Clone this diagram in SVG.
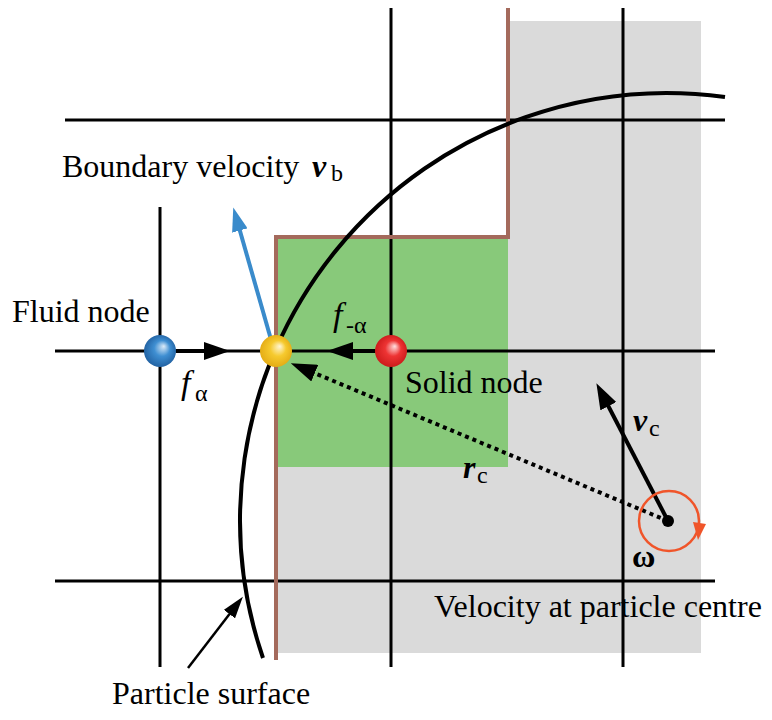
<svg xmlns="http://www.w3.org/2000/svg" width="772" height="720" viewBox="0 0 772 720">
<style>
.grid{stroke:#000;stroke-width:3;fill:none}
.lbl{font-family:"Liberation Serif","Times New Roman",serif;font-size:32px;fill:#000}
.sym{font-family:"Liberation Serif","Times New Roman",serif;font-size:34px;fill:#000;font-style:italic}
.bsym{font-family:"Liberation Serif","Times New Roman",serif;font-size:32px;fill:#000;font-style:italic;font-weight:bold}
.sub{font-family:"Liberation Serif","Times New Roman",serif;font-size:24px;fill:#000}
.arr{stroke:#000;stroke-width:4;fill:none}
</style>
<defs>
<marker id="ah" viewBox="0 0 26 18" refX="16" refY="9" markerWidth="26" markerHeight="18" markerUnits="userSpaceOnUse" orient="auto"><path d="M0,0 L26,9 L0,18 z" fill="#000"/></marker>
<marker id="ahs" viewBox="0 0 22 14" refX="14" refY="7" markerWidth="22" markerHeight="14" markerUnits="userSpaceOnUse" orient="auto"><path d="M0,0 L22,7 L0,14 z" fill="#000"/></marker>
<marker id="ahb" viewBox="0 0 24 16" refX="14" refY="8" markerWidth="24" markerHeight="16" markerUnits="userSpaceOnUse" orient="auto"><path d="M0,0 L24,8 L0,16 z" fill="#3A8BCB"/></marker>
<radialGradient id="gBlue" cx="0.5" cy="0.5" r="0.55" fx="0.62" fy="0.35"><stop offset="0" stop-color="#DCEBF8"/><stop offset="0.45" stop-color="#3F8FD2"/><stop offset="1" stop-color="#1E5C9C"/></radialGradient>
<radialGradient id="gYel" cx="0.5" cy="0.5" r="0.55" fx="0.62" fy="0.35"><stop offset="0" stop-color="#FFF6D6"/><stop offset="0.45" stop-color="#F6CA2E"/><stop offset="1" stop-color="#E2A812"/></radialGradient>
<radialGradient id="gRed" cx="0.5" cy="0.5" r="0.55" fx="0.62" fy="0.35"><stop offset="0" stop-color="#FFE0E0"/><stop offset="0.45" stop-color="#EE3434"/><stop offset="1" stop-color="#C81818"/></radialGradient>
</defs>

<g id="regions">
<rect x="508" y="21" width="193" height="632" fill="#DADADA"/>
<rect x="278" y="467" width="230" height="186" fill="#DADADA"/>
<rect x="278" y="238" width="230" height="229" fill="#88C97A"/>
</g>

<g id="grid">
<line class="grid" x1="160" y1="207" x2="160" y2="667"/>
<line class="grid" x1="391" y1="8" x2="391" y2="667"/>
<line class="grid" x1="623" y1="8" x2="623" y2="667"/>
<line class="grid" x1="65" y1="120" x2="725" y2="120"/>
<line class="grid" x1="55" y1="351" x2="715" y2="351"/>
<line class="grid" x1="55" y1="581" x2="715" y2="581"/>
</g>

<g id="boundary">
<path d="M276,660 L276,237 L508,237 L508,8" fill="none" stroke="#A46A5C" stroke-width="4"/>
</g>

<g id="particle-surface">
<path d="M263,658 A427,427 0 0 1 725,97" fill="none" stroke="#000" stroke-width="4"/>
</g>

<g id="connectors">
<line class="arr" x1="176" y1="351" x2="220" y2="351" marker-end="url(#ah)"/>
<line class="arr" x1="375" y1="351" x2="337" y2="351" marker-end="url(#ah)"/>
<line x1="272" y1="343" x2="236" y2="217" stroke="#3A8BCB" stroke-width="4" marker-end="url(#ahb)"/>
<line class="arr" x1="668" y1="521" x2="300" y2="367" stroke-dasharray="4 4" marker-end="url(#ah)"/>
<line class="arr" x1="668" y1="521" x2="601" y2="392" marker-end="url(#ah)"/>
<line x1="188" y1="668" x2="238" y2="603" stroke="#000" stroke-width="2.5" marker-end="url(#ahs)"/>
<circle cx="669" cy="521" r="30" fill="none" stroke="#F0552A" stroke-width="2.5"/>
<polygon points="693,522 706,524 698,540" fill="#F0552A"/>
</g>

<g id="centre"><circle cx="668" cy="521" r="6" fill="#000"/></g>
<g id="fluid-node"><circle cx="160" cy="351" r="16" fill="url(#gBlue)"/></g>
<g id="boundary-node"><circle cx="276" cy="351" r="16" fill="url(#gYel)"/></g>
<g id="solid-node"><circle cx="391" cy="351" r="16" fill="url(#gRed)"/></g>

<g id="labels">
<text class="lbl" x="62" y="177">Boundary velocity</text>
<text class="bsym" x="312" y="177">v</text>
<text class="sub" x="331" y="181">b</text>
<text class="lbl" x="12" y="322">Fluid node</text>
<text class="sym" x="181" y="394">f</text>
<text class="sub" x="195" y="401">α</text>
<text class="sym" x="333" y="326">f</text>
<text class="sub" x="346" y="333">-α</text>
<text class="lbl" x="405" y="393">Solid node</text>
<text class="bsym" x="463" y="478">r</text>
<text class="sub" x="477" y="483">c</text>
<text class="bsym" x="633" y="431">v</text>
<text class="sub" x="649" y="436">c</text>
<text class="lbl" x="632" y="567" font-weight="bold">ω</text>
<text class="lbl" x="434" y="617">Velocity at particle centre</text>
<text class="lbl" x="112" y="704">Particle surface</text>
</g>
</svg>
